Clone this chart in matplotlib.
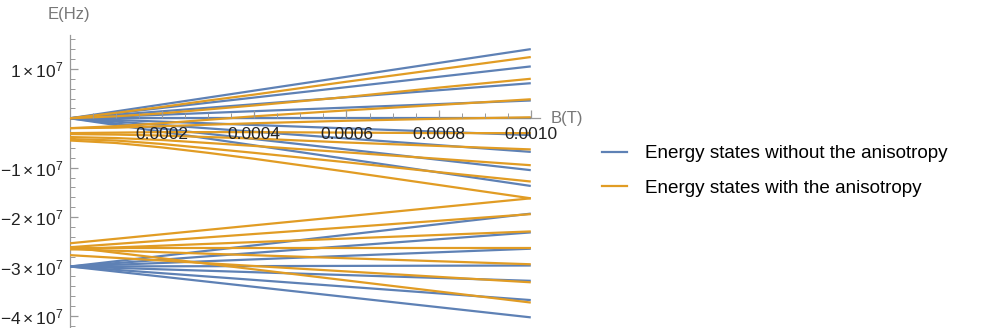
import numpy as np
import matplotlib.pyplot as plt
from matplotlib.lines import Line2D

# field values (T) at which the energies were read
b_ends = [0.0, 0.001]
b_curve = [0.0, 0.0001, 0.0002, 0.0003, 0.0004, 0.0006, 0.0008, 0.001]

# energies in units of 1e7 Hz, one row per state
blue_upper = [  # at b_ends
    [0.0, 1.40], [0.0, 1.05], [0.0, 0.71], [0.0, 0.36], [0.0, 0.0],
    [0.0, -0.34], [0.0, -0.68], [0.0, -1.05], [0.0, -1.37],
]
blue_lower = [  # at b_ends
    [-3.0, -1.93], [-3.0, -2.31], [-3.0, -2.64], [-3.0, -2.98],
    [-3.0, -3.29], [-3.0, -3.68], [-3.0, -4.03],
]
orange_upper = [  # at b_curve
    [0.00, 0.11, 0.23, 0.36, 0.48, 0.74, 0.99, 1.24],
    [0.00, 0.04, 0.10, 0.18, 0.26, 0.43, 0.62, 0.80],
    [-0.20, -0.16, -0.10, -0.03, 0.04, 0.16, 0.27, 0.385],
    [-0.20, -0.19, -0.16, -0.13, -0.10, -0.05, -0.01, 0.02],
    [-0.30, -0.29, -0.28, -0.28, -0.28, -0.29, -0.30, -0.30],
    [-0.32, -0.33, -0.35, -0.38, -0.41, -0.49, -0.56, -0.63],
    [-0.38, -0.40, -0.44, -0.50, -0.56, -0.69, -0.82, -0.95],
    [-0.42, -0.45, -0.52, -0.61, -0.70, -0.89, -1.09, -1.28],
    [-0.45, -0.50, -0.59, -0.70, -0.82, -1.08, -1.35, -1.62],
]
orange_lower = [  # at b_ends
    [-2.53, -1.62], [-2.61, -1.94], [-2.65, -2.29], [-2.62, -2.62],
    [-2.65, -2.955], [-2.77, -3.32], [-2.61, -3.73],
]

y_ticks = [1, -1, -2, -3, -4]
x_ticks = [0.0002, 0.0004, 0.0006, 0.0008, 0.0010]
x_labels = ["0.0002", "0.0004", "0.0006", "0.0008", "0.0010"]

blue = "#5E81B5"
orange = "#E19C24"

plt.rcParams["font.family"] = ["Liberation Sans", "DejaVu Sans"]
plt.rcParams["mathtext.fontset"] = "custom"
plt.rcParams["mathtext.rm"] = "Liberation Sans"
plt.rcParams["mathtext.it"] = "Liberation Sans"

fig = plt.figure(figsize=(9.81, 3.28), dpi=100)
ax = fig.add_axes([70 / 981, 0.0, 470 / 981, 0.8924])

for row in blue_upper + blue_lower:
    ax.plot(b_ends, np.array(row) * 1e7, color=blue, lw=1.6, solid_capstyle="butt")
for row in orange_upper:
    ax.plot(b_curve, np.array(row) * 1e7, color=orange, lw=1.6, solid_capstyle="butt")
for row in orange_lower:
    ax.plot(b_ends, np.array(row) * 1e7, color=orange, lw=1.6, solid_capstyle="butt")

ax.set_xlim(0, 0.00102)
ax.set_ylim(-4.245e7, 1.68e7)

# Mathematica style axes crossing at the origin
for s in ["top", "right"]:
    ax.spines[s].set_visible(False)
ax.spines["left"].set_position(("data", 0))
ax.spines["bottom"].set_position(("data", 0))
for s in ["left", "bottom"]:
    ax.spines[s].set_color("#999999")
    ax.spines[s].set_linewidth(0.9)
    ax.spines[s].set_zorder(1)

ax.set_xticks(x_ticks)
ax.set_xticklabels(x_labels)
ax.set_xticks(np.arange(0.00005, 0.00101, 0.00005), minor=True)
ax.set_yticks([v * 1e7 for v in y_ticks])
ax.set_yticklabels([r"$%d\times10^{7}$" % v if v > 0 else r"$-%d\times10^{7}$" % -v
                    for v in y_ticks])
ax.set_yticks(np.arange(-4.2e7, 1.61e7, 0.2e7), minor=True)

ax.tick_params(axis="both", which="both", direction="in", color="#999999",
               labelsize=12.5, labelcolor="#222222")
ax.tick_params(axis="both", which="major", length=6, width=0.9)
ax.tick_params(axis="both", which="minor", length=3.5, width=0.7)
ax.tick_params(axis="x", pad=6)
ax.tick_params(axis="y", pad=5)
ax.xaxis.set_zorder(5)

fig.text(69 / 981, 1 - 14 / 328, "E(Hz)", color="#777777", fontsize=12,
         ha="center", va="center")
fig.text(551 / 981, 1 - 118 / 328, "B(T)", color="#777777", fontsize=12,
         ha="left", va="center")

handles = [Line2D([], [], color=blue, lw=1.6), Line2D([], [], color=orange, lw=1.6)]
fig.legend(handles, ["Energy states without the anisotropy",
                     "Energy states with the anisotropy"],
           loc="center left", bbox_to_anchor=(585 / 981, 1 - 171 / 328),
           frameon=False, fontsize=13.6, handlelength=1.3, labelspacing=0.9,
           handletextpad=1.0)

fig.savefig("out.png", dpi=100)
